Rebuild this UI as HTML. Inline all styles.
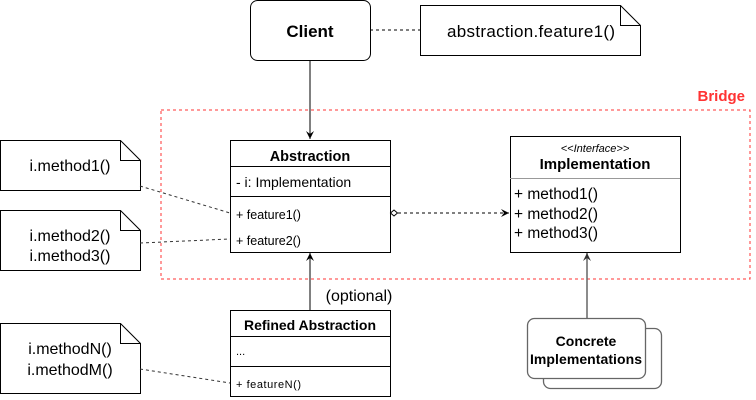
<!DOCTYPE html>
<html><head><style>body{margin:0;background:#fff}svg{display:block}text{font-family:"Liberation Sans",Arial,sans-serif}</style></head><body>
<svg width="756" height="400" viewBox="0 0 756 400" xmlns="http://www.w3.org/2000/svg">
<defs><marker id="a" markerWidth="10" markerHeight="10" refX="8" refY="5" orient="auto" markerUnits="userSpaceOnUse"><path d="M0,1 L8,5 L0,9 L3,5 Z" fill="#000"/></marker>
<marker id="g" markerWidth="10" markerHeight="10" refX="8" refY="5" orient="auto" markerUnits="userSpaceOnUse"><path d="M0,1 L8,5 L0,9 L3,5 Z" fill="#333"/></marker></defs>
<rect x="161" y="110" width="589" height="169" fill="none" stroke="#f33" stroke-dasharray="3,3"/>
<text x="745" y="101" text-anchor="end" font-size="15" font-weight="bold" fill="#f33">Bridge</text>
<rect x="250.5" y="0.5" width="120" height="60" rx="7" fill="#fff" stroke="#000"/>
<text x="310" y="37" text-anchor="middle" font-size="17" font-weight="bold">Client</text>
<line x1="370" y1="30" x2="420" y2="30" stroke="#000" stroke-dasharray="3,3"/>
<path d="M420.5,5.5 H620.5 L640.5,25.5 V55.5 H420.5 Z M620.5,5.5 V25.5 H640.5" fill="#fff" stroke="#000"/>
<text x="531" y="37" text-anchor="middle" font-size="17" textLength="168">abstraction.feature1()</text>
<line x1="310" y1="60" x2="310" y2="139" stroke="#000" marker-end="url(#a)"/>
<path d="M0.5,140.5 H120.5 L140.5,160.5 V190.5 H0.5 Z M120.5,140.5 V160.5 H140.5" fill="#fff" stroke="#000"/>
<text x="70" y="171" text-anchor="middle" font-size="16">i.method1()</text>
<path d="M0.5,210.5 H120.5 L140.5,230.5 V270.5 H0.5 Z M120.5,210.5 V230.5 H140.5" fill="#fff" stroke="#000"/>
<text x="70" y="241" text-anchor="middle" font-size="16">i.method2()</text>
<text x="70" y="261" text-anchor="middle" font-size="16">i.method3()</text>
<line x1="140" y1="186" x2="230" y2="213" stroke="#333" stroke-dasharray="3,3"/>
<line x1="140" y1="243" x2="230" y2="239" stroke="#333" stroke-dasharray="3,3"/>
<rect x="230.5" y="140.5" width="160" height="112" fill="#fff" stroke="#000"/>
<line x1="230" y1="166.5" x2="390" y2="166.5" stroke="#000"/>
<line x1="230" y1="196.5" x2="390" y2="196.5" stroke="#000"/>
<text x="310" y="161" text-anchor="middle" font-size="14.5" font-weight="bold">Abstraction</text>
<text x="236" y="187" font-size="14">- i: Implementation</text>
<text x="236" y="219" font-size="12.5">+ feature1()</text>
<text x="236" y="245" font-size="12.5">+ feature2()</text>
<path d="M390.5,213 L394,210 L397.5,213 L394,216 Z" fill="#fff" stroke="#000"/>
<line x1="398" y1="213" x2="509" y2="213" stroke="#000" stroke-dasharray="3,3" marker-end="url(#a)"/>
<rect x="510.5" y="136.5" width="170" height="116" fill="#fff" stroke="#000"/>
<line x1="510" y1="178.5" x2="680" y2="178.5" stroke="#999"/>
<text x="595" y="152" text-anchor="middle" font-size="11" font-style="italic">&lt;&lt;Interface&gt;&gt;</text>
<text x="595" y="169" text-anchor="middle" font-size="15" font-weight="bold">Implementation</text>
<text x="514" y="199" font-size="15.5">+ method1()</text>
<text x="514" y="219" font-size="15.5">+ method2()</text>
<text x="514" y="238" font-size="15.5">+ method3()</text>
<line x1="310" y1="310" x2="310" y2="253" stroke="#000" marker-end="url(#a)"/>
<text x="359" y="301" text-anchor="middle" font-size="16">(optional)</text>
<rect x="230.5" y="310.5" width="160" height="86" fill="#fff" stroke="#000"/>
<line x1="230" y1="336.5" x2="390" y2="336.5" stroke="#000"/>
<line x1="230" y1="366.5" x2="390" y2="366.5" stroke="#000"/>
<text x="310" y="330" text-anchor="middle" font-size="14" font-weight="bold" textLength="132">Refined Abstraction</text>
<text x="236" y="355" font-size="11">...</text>
<text x="236" y="388" font-size="11" textLength="65">+ featureN()</text>
<path d="M0.5,323.5 H120.5 L140.5,343.5 V393.5 H0.5 Z M120.5,323.5 V343.5 H140.5" fill="#fff" stroke="#000"/>
<text x="70" y="354" text-anchor="middle" font-size="16">i.methodN()</text>
<text x="70" y="375" text-anchor="middle" font-size="16">i.methodM()</text>
<line x1="140" y1="369" x2="230" y2="383" stroke="#333" stroke-dasharray="3,3"/>
<line x1="587" y1="318" x2="587" y2="253" stroke="#666" stroke-width="1.5" marker-end="url(#g)"/>
<rect x="543.5" y="328.5" width="118" height="60" rx="7" fill="#fff" stroke="#666" stroke-width="1.3"/>
<rect x="527.5" y="318.5" width="118" height="60" rx="7" fill="#fff" stroke="#666" stroke-width="1.3"/>
<text x="586" y="346" text-anchor="middle" font-size="14" font-weight="bold">Concrete</text>
<text x="586" y="364" text-anchor="middle" font-size="14" font-weight="bold" textLength="112">Implementations</text>
</svg>
</body></html>
